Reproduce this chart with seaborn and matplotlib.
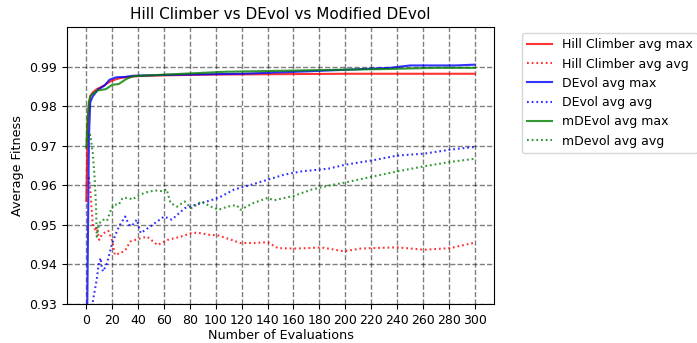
import numpy as np
import matplotlib
matplotlib.use("Agg")
import matplotlib.pyplot as plt
import seaborn as sns

# values
hc_max_x = [0, 1, 2, 3, 5, 8, 10, 14, 18, 22, 26, 30, 40, 60, 80, 100, 150, 200, 300]
hc_max_y = [0.956, 0.975, 0.980, 0.9825, 0.9835, 0.9843, 0.9846, 0.9853, 0.9862, 0.9867, 0.9871,
            0.9873, 0.9876, 0.9878, 0.9879, 0.9880, 0.9881, 0.9882, 0.9882]

hc_avg_x = [2, 3, 5, 7, 8, 10, 12, 14, 17, 20, 22, 26, 30, 34, 42, 47, 55, 63, 73, 81, 86, 96,
            101, 112, 119, 130, 140, 148, 161, 171, 181, 192, 199, 212, 220, 240, 261, 281, 300]
hc_avg_y = [0.962, 0.959, 0.950, 0.9485, 0.9495, 0.9462, 0.9475, 0.948, 0.9485, 0.946, 0.9424,
            0.9428, 0.9435, 0.9458, 0.9466, 0.947, 0.9449, 0.9462, 0.947, 0.9479, 0.948, 0.9474,
            0.9474, 0.9462, 0.9454, 0.9454, 0.9456, 0.9441, 0.944, 0.9441, 0.9443, 0.9437,
            0.9433, 0.944, 0.9441, 0.9443, 0.9437, 0.9441, 0.9455]

de_max_x = [0, 2, 3, 5, 9, 14, 18, 23, 30, 36, 60, 80, 120, 170, 200, 235, 250, 285, 300]
de_max_y = [0.905, 0.972, 0.981, 0.9825, 0.9842, 0.9852, 0.9867, 0.9873, 0.9874, 0.9877,
            0.9879, 0.9880, 0.9882, 0.9888, 0.9892, 0.9897, 0.9903, 0.9903, 0.9905]

de_avg_x = [2, 5, 8, 9.5, 11, 12, 13, 16, 20, 24, 26, 30, 33, 35, 39, 42, 50, 60, 66, 76, 89,
            102, 114, 127, 140, 153, 166, 187, 200, 221, 240, 261, 281, 300]
de_avg_y = [0.91, 0.9306, 0.9361, 0.9399, 0.9416, 0.939, 0.9382, 0.9403, 0.9454, 0.9487, 0.950,
            0.9521, 0.950, 0.9497, 0.9513, 0.9479, 0.9497, 0.9521, 0.9513, 0.9542, 0.9555,
            0.9568, 0.9589, 0.9601, 0.9614, 0.9627, 0.9635, 0.9642, 0.9652, 0.9663, 0.9675,
            0.968, 0.969, 0.9697]

md_max_x = [0, 1, 2, 3, 5, 9, 15, 20, 25, 31, 36, 49, 62, 107, 176, 232, 271, 300]
md_max_y = [0.9695, 0.977, 0.981, 0.9825, 0.9832, 0.984, 0.9843, 0.9854, 0.9856, 0.9869, 0.9876,
            0.9878, 0.988, 0.9887, 0.9891, 0.9894, 0.9897, 0.9897]

md_avg_x = [1, 3, 5, 6.5, 7.5, 8, 10, 13, 16, 18, 21, 25, 28, 32, 36, 39, 46, 53, 59, 62, 65, 70,
            76, 81, 89, 96, 102, 109, 116, 119, 129, 140, 145, 153, 160, 174, 187, 200, 221, 240,
            261, 281, 300]
md_avg_y = [0.9715, 0.9728, 0.9681, 0.9614, 0.9546, 0.947, 0.9504, 0.9513, 0.951, 0.953, 0.9551,
            0.9551, 0.9568, 0.9568, 0.9564, 0.9573, 0.9582, 0.9587, 0.9585, 0.959, 0.9555, 0.9546,
            0.9559, 0.9542, 0.9559, 0.9546, 0.9538, 0.9546, 0.955, 0.9538, 0.9555, 0.9568, 0.9562,
            0.9568, 0.9573, 0.9589, 0.9599, 0.9607, 0.9622, 0.9635, 0.9648, 0.9659, 0.9667]

x_ticks = list(range(0, 301, 20))
y_ticks = [0.93, 0.94, 0.95, 0.96, 0.97, 0.98, 0.99]


def main():
    plt.rcParams['font.size'] = 9.2
    fig, ax = plt.subplots(figsize=(6.97, 3.43), dpi=100)
    fig.subplots_adjust(left=0.096, right=0.709, bottom=0.114, top=0.921)

    dotted = (0, (0.85, 1.4))
    series = [
        (hc_max_x, hc_max_y, 'red', '-', 'Hill Climber avg max'),
        (hc_avg_x, hc_avg_y, 'red', dotted, 'Hill Climber avg avg'),
        (de_max_x, de_max_y, 'blue', '-', 'DEvol avg max'),
        (de_avg_x, de_avg_y, 'blue', dotted, 'DEvol avg avg'),
        (md_max_x, md_max_y, 'green', '-', 'mDEvol avg max'),
        (md_avg_x, md_avg_y, 'green', dotted, 'mDevol avg avg'),
    ]
    for xs, ys, col, ls, lab in series:
        sns.lineplot(x=xs, y=ys, color=col, linestyle=ls, linewidth=1.5,
                     alpha=0.8, label=lab, estimator=None, ax=ax)

    ax.set_title('Hill Climber vs DEvol vs Modified DEvol', fontsize=11)
    ax.set_xlabel('Number of Evaluations', labelpad=2)
    ax.set_ylabel('Average Fitness')
    ax.set_xticks(x_ticks)
    ax.set_yticks(y_ticks)
    ax.tick_params(labelsize=9)
    ax.set_xlim(-15, 315)
    ax.set_ylim(0.93, 1.0)
    ax.grid(True, color='k', linestyle='--', linewidth=1, alpha=0.5)
    ax.legend(bbox_to_anchor=(1.05, 1), loc='upper left', fontsize=9)

    plt.savefig("out.png", dpi=100)


if __name__ == "__main__":
    main()
